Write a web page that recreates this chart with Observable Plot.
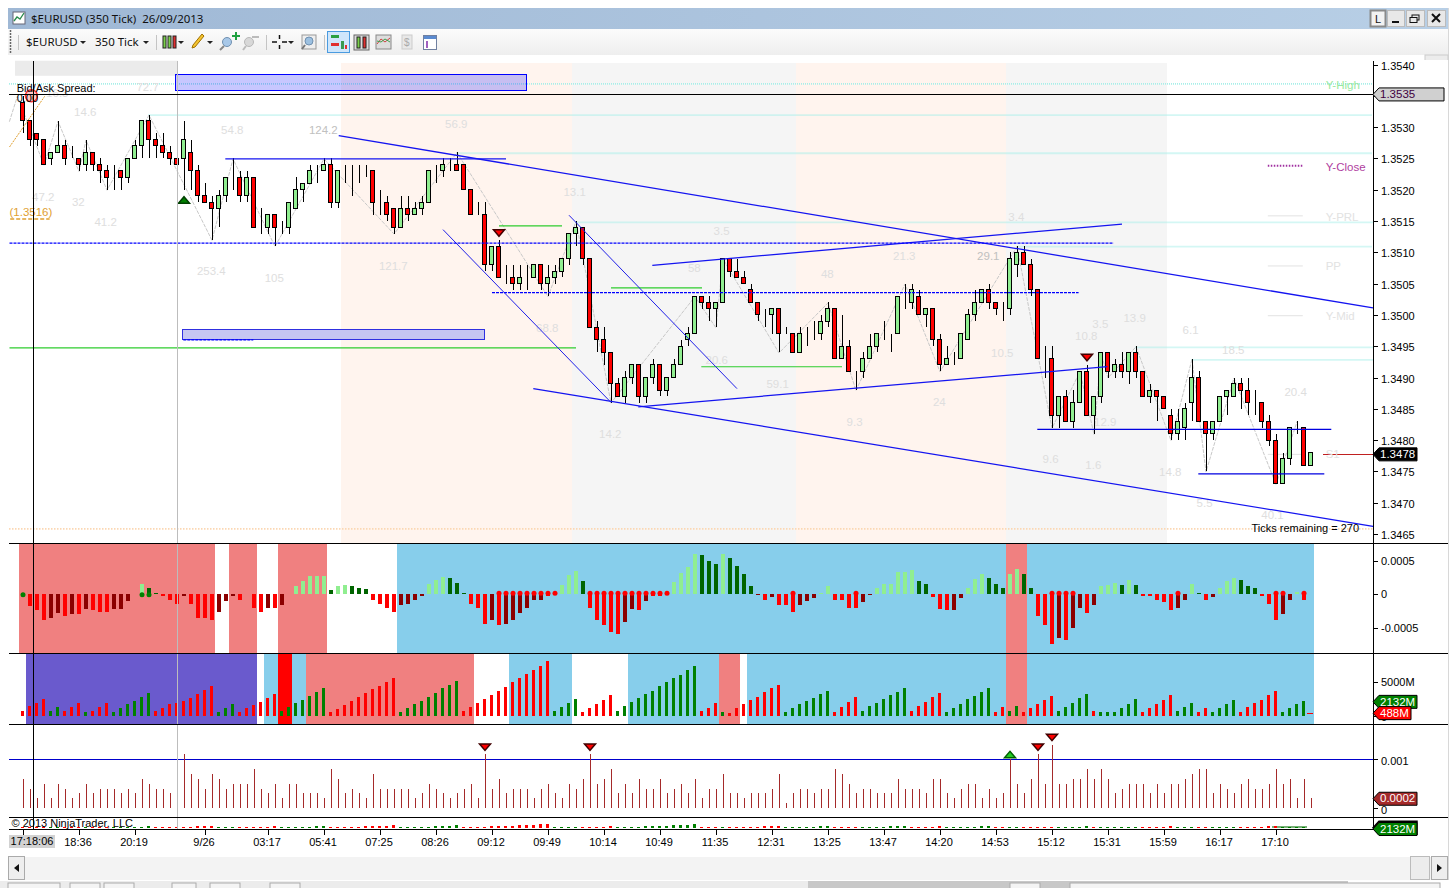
<!DOCTYPE html>
<html><head><meta charset="utf-8">
<script src="https://cdn.jsdelivr.net/npm/d3@7"></script>
<script src="https://cdn.jsdelivr.net/npm/@observablehq/plot@0.6"></script>
<style>
html,body{margin:0;padding:0;background:#fff;overflow:hidden}
#root{position:relative;width:1456px;height:888px;overflow:hidden;font-family:"Noto Sans",sans-serif;font-size:12px;color:#000}
#root>*{position:absolute}
.panel{left:0;shape-rendering:auto}
</style></head><body><div id="root"></div>
<script>
// ---------- candles, in pips above 1.3500 ----------
const opens=[34,31,29,28,25,26,27,25,25,24,26,24,23,23,23,22,25,27,31,28,27,26,25,25,26,23,19,18,17,19,22,22,19,22,14,14,16,14,14,17,20,21,23,23,24,18,23,23,23,23,23,18,18,17,14,17,16,17,18,23,23,24,24,24,20,16,
16,8,11,6,6,5,6,6,8,5,6,7,9,13,14,9,-2,-4,-6,-11,-13,-10,-8,-13,-10,-8,-12,-10,-8,-4,-3,3,2,1,2,9,7,6,4,2,0,0,1,-3,-3,-6,-3,-3,-3,-1,1,-7,-5,-9,-9,-7,-5,-3,-3,-3,2,2,3,0,1,-4,-8,-7,-7,-4,0,2,4,2,1,1,8,10,8,4,-7,-7,-16,-13,-17,-14,-9,-16,-13,-6,-9,-8,-9,-6,-9,-13,-12,-13,-16,-19,-18,-14,-10,-17,-19,-17,-13,-13,-11,-12,-14,-14,-17,-20,-27,-23,-18,-18,-24];
const closes=[31,28,28,24,26,27,25,25,24,26,24,23,22,23,22,25,27,31,28,27,26,25,24,28,23,19,18,17,19,22,22,19,22,14,14,16,14,14,18,20,21,23,23,24,18,23,23,23,23,23,18,18,16,14,17,16,17,18,23,23,24,24,23,20,16,16,
8,11,6,6,5,6,6,8,5,6,7,9,13,14,9,-2,-4,-6,-11,-13,-10,-8,-13,-10,-8,-12,-10,-8,-5,-3,3,2,1,2,9,7,6,5,2,0,0,1,-3,-3,-6,-3,-3,-3,-1,1,-7,-5,-9,-9,-7,-5,-3,-3,-3,3,2,4,0,1,-4,-8,-7,-7,-3,0,2,4,2,1,1,9,10,8,4,-7,-7,-16,-13,-17,-14,-9,-16,-13,-6,-9,-8,-9,-6,-9,-13,-12,-13,-15,-19,-17,-15,-10,-17,-19,-17,-13,-12,-11,-12,-14,-14,-17,-20,-27,-23,-18,-18,-24,-22];
const highs=[35,31,29,28,26,31,28,27,25,28,26,25,24,24,23,25,28,31,32,29,29,27,27,31,28,24,21,19,20,22,25,23,23,22,17,16,16,15,18,22,21,24,24,25,25,23,24,24,24,24,23,20,19,17,19,19,18,19,23,24,25,25,26,24,20,18,
18,11,12,8,8,8,8,8,8,8,8,9,13,15,14,9,-1,-2,-6,-10,-9,-8,-8,-10,-7,-8,-10,-7,-4,-2,3,3,3,2,9,9,9,7,5,2,1,1,1,-2,-3,-2,-2,-1,0,2,1,0,-4,-9,-6,-3,-3,-1,-3,3,5,5,4,1,1,-3,-5,-6,-3,1,4,4,5,2,2,10,11,11,9,4,-5,-5,-13,-12,-12,-9,-8,-13,-6,-6,-7,-6,-6,-5,-9,-11,-12,-13,-15,-15,-14,-7,-9,-17,-17,-13,-12,-10,-10,-10,-12,-14,-16,-19,-22,-18,-17,-18,-22];
const lows=[29,27,27,24,24,26,24,25,23,23,23,21,20,20,20,21,25,25,25,25,25,24,22,20,20,18,18,12,14,18,20,18,18,14,13,13,11,13,13,17,18,21,21,23,17,17,21,19,21,22,16,16,15,13,14,15,16,16,18,21,22,23,23,20,16,16,
7,7,6,5,4,4,4,6,4,3,5,6,8,11,8,-2,-6,-8,-14,-13,-14,-11,-14,-14,-11,-13,-13,-10,-8,-5,-3,1,-1,-2,2,6,6,5,2,-1,-2,-3,-6,-3,-6,-6,-5,-4,-4,-2,-7,-7,-9,-12,-10,-6,-6,-4,-6,-3,1,1,0,-2,-5,-9,-8,-8,-7,-4,-1,2,1,0,-1,0,6,8,3,-7,-10,-18,-18,-17,-18,-14,-16,-19,-14,-10,-10,-10,-11,-10,-13,-14,-17,-15,-20,-20,-20,-17,-17,-25,-20,-17,-16,-13,-15,-16,-16,-18,-21,-27,-27,-24,-19,-24,-24];
// ---------- momentum histogram, units of 0.00001 ----------
const momentum=[0,-18,-24,-39,-36,-28,-32,-30,-30,-22,-24,-26,-27,-22,-22,-10,0,15,10,2,-3,-9,-15,-3,-15,-36,-36,-38,-27,-10,-2,-9,0,-21,-27,-20,-20,-16,0,12,20,27,27,27,6,12,14,12,10,8,-9,-15,-21,-27,-16,-14,-8,-2,15,21,25,24,16,2,-15,-20,
-44,-39,-46,-44,-39,-28,-21,-8,-9,-2,-1,14,28,34,20,-21,-39,-46,-57,-60,-42,-22,-24,-10,-2,-2,5,18,32,40,60,58,50,45,60,54,42,30,12,-1,-8,-4,-16,-16,-26,-16,-10,-6,2,12,-9,-9,-21,-21,-12,-1,10,15,15,33,33,36,20,15,-4,-22,-24,-24,-6,
10,22,30,24,15,10,30,38,30,10,-33,-46,-74,-66,-68,-50,-21,-28,-16,12,14,16,14,21,14,-3,-3,-8,-12,-24,-20,-8,15,2,-9,-4,10,20,24,21,12,9,-3,-15,-39,-30,-8,4,-9,0];
const momentumShade=("g"+"rrrddrdrdrrrddd"+"r"+"lgg"+"rrrd"+"rrrr"+"ddd"+"rrrr"+"drd"+"llllll"+"gllggg"+"rrrr"+"dddd"+"lll"+"ggg"+"rr"+
"rdr"+"dddddd"+"rr"+"lll"+"g"+"rrrrr"+"dd"+"r"+"d"+"rr"+"lllll"+"ggg"+"l"+"gggg"+"d"+"r"+"d"+"rrr"+"ddd"+"ll"+"rrrr"+"dd"+"llllll"+"gg"+"rrr"+"dd"+
"lll"+"ggg"+"ll"+"gg"+"rrr"+"d"+"r"+"dd"+"r"+"d"+"lll"+"g"+"l"+"g"+"rrrrr"+"dd"+"l"+"g"+"r"+"d"+"lll"+"ggg"+"rrr"+"dd"+"l"+"rr").split("");
const redDots=[68,69,70,71,72,73,74,75,76,81,82,83,84,85,86,87,88,89,90,91,92,110,119,147,148,149,150,165,179,180,183];
const greenDots=[0,17,18];
// ---------- volume, millions ----------
const volume=[680,1455,1890,2470,730,1310,730,1310,1890,580,730,1310,1890,580,1160,1745,2180,2765,3350,730,1160,1745,1890,2180,2620,3200,3780,4365,580,1160,1745,580,1160,1600,2040,2620,3200,730,1310,1890,2330,2910,3490,4075,580,1020,1600,2180,2765,3350,3930,4365,4950,5530,580,1160,1745,2180,2765,3350,4075,4510,5090,730,1310,1890,
2470,3055,3640,4220,4950,5530,6110,6690,7275,8000,730,1310,1890,2470,580,1160,1745,2330,3055,730,1455,2040,2620,3200,3640,4365,4950,5530,5965,6690,7275,730,1160,1890,580,485,1160,1745,2330,2765,3490,4075,4510,580,1160,1745,2180,2620,3200,3640,580,1310,2040,2765,730,1455,1890,2470,3055,3490,4075,730,1455,2040,2765,3350,580,1160,1745,
2470,2910,3490,4075,580,1310,730,1455,580,1160,1745,2330,2910,730,1310,1890,2620,3200,730,580,580,580,1160,1745,2470,580,1160,1745,2330,3055,730,1310,1890,580,1160,580,1160,1745,2330,580,1310,1890,2330,3055,3640,580,1160,1745,2180,0];
const volumeRuns=[["r",4],["g",2],["r",3],["g",1],["r",3],["g",6],["r",9],["g",3],["r",6],["g",7],["r",10],["g",9],["r",13],["g",4],["r",5],["g",12],["r",3],["g",1],["r",8],["g",7],["r",4],["g",7],["r",5],["g",7],["r",2],["g",2],["r",5],["g",5],["r",1],["g",6],["r",5],["g",3],["r",2],["g",4],["r",6],["g",5]];
// ---------- bar range, pips ----------
const barRange=[6,4,2,5,2,5,4,2,3,5,3,4,4,4,3,4,3,6,5,4,4,3,3,11,7,6,4,7,6,4,5,5,5,8,4,3,5,2,5,5,3,3,3,2,8,6,3,4,3,2,7,4,4,4,4,4,2,3,5,4,3,2,3,4,5,2,
11,4,6,3,4,4,4,2,4,5,3,2,5,4,6,11,5,6,8,3,5,3,6,4,4,6,3,4,5,3,6,2,4,4,7,3,3,2,3,3,3,4,7,1,3,4,4,3,4,4,8,7,5,3,4,4,3,3,3,6,4,4,4,3,6,6,3,2,
4,5,5,2,4,2,3,10,5,3,6,11,5,13,5,5,6,6,8,6,8,6,3,4,5,5,5,3,5,3,5,5,6,7,8,8,3,5,4,3,5,6,4,4,5,8,5,6,2,6,2];
// ---------- background states [from bar, to bar, colour] ----------
const bandsMomentum=[[-.5,27.5,"#f08080"],[29.5,33.5,"#f08080"],[36.5,43.5,"#f08080"],[53.5,140.5,"#87ceeb"],[140.5,143.5,"#f08080"],[143.5,184.5,"#87ceeb"]];
const bandsVolume=[[.5,33.5,"#6a5acd"],[34.5,36.5,"#87ceeb"],[36.5,38.5,"#ff0000"],[38.5,40.5,"#87ceeb"],[40.5,64.5,"#f08080"],[69.5,78.5,"#87ceeb"],[86.5,99.5,"#87ceeb"],[99.5,102.5,"#f08080"],[103.5,140.5,"#87ceeb"],[140.5,143.5,"#f08080"],[143.5,184.5,"#87ceeb"]];
const sessions=[[45.5,78.5,"#fff4ee"],[78.5,110.5,"#f5f5f5"],[110.5,140.5,"#fff4ee"],[140.5,163.5,"#f5f5f5"]];
// ---------- drawn objects, [bar, pips, bar, pips] ----------
const channelLines=[[45.1,28.7,192.86,1.2],[72.9,-11.7,192.86,-33.7],[89.9,8,157,14.6],[87.9,-14.6,154.9,-8.2],[28.9,25,69,25]];
const thinDiagonals=[[60,13.7,84,-13.9],[78,16,102,-11.7]];
const dashedBlue=[[-1.93,11.55,155.8,11.55],[67,3.65,150.8,3.65],[22.9,-3.9,32.9,-3.9]];
const supportLines=[[144.9,-18.2,186.9,-18.2],[167.9,-25.3,185.9,-25.3]];
const greenLines=[[68,14.3,77,14.3],[84,4.4,97,4.4],[-1.93,-5.2,79,-5.2],[96.9,-8.2,117,-8.2]];
const cyanLevels=[[-1.93,37],[18,32],[62,25.9],[79,14.85],[142,11],[159,-5.1],[167,-7.1]];
const zigBars=[-1.93,-.8,3,5,8,9,12,18,27,30,36,43,53,62,75,79,84,96,99,100,108,115,119,126,131,142,147,151,153,154,155,159,164,167,169,173,179,182];
const zigPips=[31,35,24,31,23,28,20,32,12,25,11,25,13,26,3,15,-14,3,-2,9,-6,2,-12,5,-9,11,-18,-9,-19,-6,-10,-5,-20,-7,-25,-10,-27,-17];
const swingText=["72.7","16.3","14.6","54.8","124.2","56.9","13.1","47.2","32","41.2","253.4","105","121.7","3.5","58","48","21.3","29.1","3.4","68.8","20.6","59.1","24","9.3","14.2","10.5","10.8","3.5","13.9","6.1","18.5","20.4","12.9","9.6","1.6","14.8","5.5","40.1"];
const swingBars=[17.8,4.9,8.9,29.9,42.9,61.9,78.8,2.9,7.9,11.8,26.9,35.9,52.9,99.8,95.9,114.9,125.9,137.9,141.9,74.9,99.1,107.8,130.9,118.8,83.9,139.9,151.9,153.9,158.8,166.8,172.9,181.8,154.6,146.8,152.9,163.9,168.8,178.5];
const swingPips=[36.5,35.4,32.5,29.6,29.6,30.6,19.6,18.9,18,14.9,7,6,7.9,13.5,7.6,6.5,9.5,9.5,15.6,-2,-7.1,-11,-13.9,-17,-19,-6,-3.4,-1.5,-.4,-2.4,-5.5,-12.3,-17,-23,-24,-25,-30,-32];
const darkerSwings=["124.2","29.1"];
const levelNames=["Y-High","Y-Close","Y-PRL","PP","Y-Mid","S1"];
const levelPips=[36.8,23.7,15.7,7.8,-.2,-22.2];
const levelColors=["#98e8a0","#b040a0","#e2e2e2","#e2e2e2","#e2e2e2","#e2e2e2"];
const priceTicks=[1.3465,1.3470,1.3475,1.3480,1.3485,1.3490,1.3495,1.3500,1.3505,1.3510,1.3515,1.3520,1.3525,1.3530,1.3535,1.3540];
const timeTickBars=[0,8,16,26,35,43,51,59,67,75,83,91,99,107,115,123,131,139,147,155,163,171,179];
const timeTickText=["","18:36","20:19","9/26","03:17","05:41","07:25","08:26","09:12","09:49","10:14","10:49","11:35","12:31","13:25","13:47","14:20","14:53","15:12","15:31","15:59","16:17","17:10"];

// ---------- derived tables ----------
const price=p=>1.35+p/1e4;
const candles=opens.map((o,i)=>({i,open:price(o),close:price(closes[i]),high:price(highs[i]),low:price(lows[i]),up:closes[i]>=o}));
const shadeColor={r:"#ff0000",d:"#8b0000",l:"#90ee90",g:"#006400"};
const momentumRows=momentum.map((v,i)=>({i,v:v*1e-5,s:momentumShade[i]||"r"}));
const volumeSides=volumeRuns.flatMap(([s,n])=>Array(n).fill(s));
const volumeRows=volume.map((v,i)=>({i,v,s:volumeSides[i]||"g"}));
const rangeRows=barRange.map((v,i)=>({i,v:v*1e-4}));
const lineRows=a=>a.map(([a1,p1,a2,p2])=>({a1,a2,p1:price(p1),p2:price(p2)}));
const segs=(a,o)=>Plot.link(lineRows(a),{x1:"a1",x2:"a2",y1:"p1",y2:"p2",...o});

const FONT="'Liberation Sans',Arial,sans-serif";
const UIFONT="'Noto Sans',sans-serif";
const AX=1350/7, LEFT=-13.5/7, CROSS=10/7, GREY=22;
const tag=w=>({draw(c){c.moveTo(0,0);c.lineTo(6,-6.5);c.lineTo(w,-6.5);c.lineTo(w,6.5);c.lineTo(6,6.5);c.closePath();}});
const flatDown={draw(c){c.moveTo(-5.5,-3);c.lineTo(5.5,-3);c.lineTo(0,3.5);c.closePath();}};
const flatUp={draw(c){c.moveTo(-5.5,3);c.lineTo(5.5,3);c.lineTo(0,-3.5);c.closePath();}};

function panel(top,height,y,marks,opts={}){
  const svg=Plot.plot({width:1456,height,marginTop:0,marginLeft:0,marginRight:1456-1372.5,marginBottom:opts.marginBottom??0,
    style:{fontFamily:FONT,fontSize:"11px",background:"transparent",overflow:"visible",color:"#000"},
    x:{domain:[0,184],range:[22.5,1310.5],axis:null,label:null},
    y:{...y,axis:null,label:null},
    marks});
  svg.classList.add("panel");
  svg.style.position="absolute";svg.style.top=top+"px";svg.style.left="0";svg.style.maxWidth="none";
  document.getElementById("root").appendChild(svg);
  return svg;
}
const bandMarks=b=>b.map(([a,z,c])=>Plot.rect([0],{x1:()=>a,x2:()=>z,fill:c,shapeRendering:"crispEdges"}));
const vRules=[
  Plot.ruleX([GREY],{stroke:"#bdbdbd",shapeRendering:"crispEdges"}),
  Plot.ruleX([CROSS],{stroke:"#000",shapeRendering:"crispEdges"}),
  Plot.ruleX([AX],{stroke:"#000",shapeRendering:"crispEdges"})];
const yAxis=(ticks,fmt,dy=0)=>[
  Plot.ruleY(ticks,{x1:()=>AX,x2:()=>AX+5/7,stroke:"#000",shapeRendering:"crispEdges"}),
  Plot.axisY({anchor:"right",ticks,tickFormat:fmt,tickSize:0,tickPadding:8,fontSize:11,label:null,dy})];
const tagMark=(y,w,fill,text,color)=>[
  Plot.dot([0],{x:()=>AX,y:()=>y,symbol:tag(w),fill,stroke:"#000",strokeWidth:1}),
  Plot.text([text],{x:()=>AX,y:()=>y,dx:7,text:d=>d,textAnchor:"start",fill:color,fontSize:11.5})];

// ---------- price panel ----------
const top1=price(40.6),bottomP=price(-36.4);
panel(55,488,{domain:[1.3465,1.3540],range:[479,9.5]},[
  ...sessions.map(([a,z,c])=>Plot.rect([0],{x1:()=>a,x2:()=>z,y1:()=>price(40.2),y2:()=>bottomP,fill:c,shapeRendering:"crispEdges"})),
  Plot.rect([0],{x1:()=>-1.07,x2:()=>22.2,y1:()=>top1,y2:()=>price(38.2),fill:"#ebebeb"}),
  ...cyanLevels.map(([a,p])=>Plot.ruleY([price(p)],{x1:()=>a,x2:()=>AX,stroke:"#a8efe9",strokeWidth:1.8,strokeDasharray:"1,1"})),
  Plot.ruleY([price(-34.1)],{x1:()=>LEFT,x2:()=>AX,stroke:"#fbd8b4",strokeWidth:1.8,strokeDasharray:"1.5,1.5"}),
  Plot.rect([0],{x1:()=>21.9,x2:()=>72,y1:()=>price(38.4),y2:()=>price(35.9),fill:"#0000ff",fillOpacity:.22,stroke:"#0000ff",shapeRendering:"crispEdges"}),
  Plot.rect([0],{x1:()=>22.9,x2:()=>66,y1:()=>price(-2.3),y2:()=>price(-4),fill:"#c6c6f2",stroke:"#3030e0",shapeRendering:"crispEdges"}),
  // swing labels and zigzag
  Plot.text(swingText,{x:(d,i)=>swingBars[i],y:(d,i)=>price(swingPips[i]),text:d=>d,fill:"#dedede",fontSize:11.5,filter:d=>!darkerSwings.includes(d)}),
  Plot.text(swingText,{x:(d,i)=>swingBars[i],y:(d,i)=>price(swingPips[i]),text:d=>d,fill:"#c0c0c0",fontSize:11.5,filter:d=>darkerSwings.includes(d)}),
  Plot.line(zigBars.map((a,i)=>[a,price(zigPips[i])]),{x:d=>d[0],y:d=>d[1],stroke:"#c8c8c8",strokeDasharray:"3,2",strokeWidth:1}),
  // legend strokes at right
  Plot.ruleY([price(23.9)],{x1:()=>177.9,x2:()=>182.9,stroke:"#a030a0",strokeWidth:2,strokeDasharray:"1.5,1.5"}),
  ...[15.9,7.9,-.05,-22.2].map(p=>Plot.ruleY([price(p)],{x1:()=>177.9,x2:()=>182.9,stroke:"#e2e2e2"})),
  Plot.ruleY([price(-22.2)],{x1:()=>185.8,x2:()=>AX,stroke:"#c02020",shapeRendering:"crispEdges"}),
  Plot.text(levelNames,{x:()=>186.1,y:(d,i)=>price(levelPips[i]),text:d=>d,textAnchor:"start",fill:"#e2e2e2",fontSize:11.5,filter:(d,i)=>i>1}),
  Plot.text([levelNames[0]],{x:()=>186.1,y:()=>price(levelPips[0]),text:d=>d,textAnchor:"start",fill:levelColors[0],fontSize:11.5}),
  Plot.text([levelNames[1]],{x:()=>186.1,y:()=>price(levelPips[1]),text:d=>d,textAnchor:"start",fill:levelColors[1],fontSize:11.5}),
  // green support strokes
  segs(greenLines,{stroke:"#2ecc2e",strokeWidth:1.2}),
  // candles
  Plot.ruleX(candles,{x:"i",y1:"low",y2:"high",stroke:"#000",shapeRendering:"crispEdges"}),
  Plot.rect(candles.filter(d=>d.up),{x1:d=>d.i-2/7,x2:d=>d.i+2/7,y1:"open",y2:"close",fill:"#90ee90",stroke:"#000",shapeRendering:"crispEdges"}),
  Plot.rect(candles.filter(d=>!d.up),{x1:d=>d.i-2/7,x2:d=>d.i+2/7,y1:"open",y2:"close",fill:"#ff0000",stroke:"#000",shapeRendering:"crispEdges"}),
  // drawings
  segs(channelLines,{stroke:"#1414f0",strokeWidth:1.25}),
  segs(thinDiagonals,{stroke:"#2020e8",strokeWidth:1}),
  segs(dashedBlue,{stroke:"#0000ff",strokeWidth:1.3,strokeDasharray:"3,1"}),
  segs(supportLines,{stroke:"#0000e0",strokeWidth:1.2}),
  Plot.link([0],{x1:()=>LEFT,x2:()=>3.1,y1:()=>price(26.9),y2:()=>price(35),stroke:"#e0a030",strokeDasharray:"2,1"}),
  Plot.dot([0],{x:()=>1.2,y:()=>price(35.1),r:6,stroke:"#ff3030",strokeWidth:1.5,fill:"#ff9090",fillOpacity:.5}),
  // markers
  Plot.dot([0],{x:()=>68,y:()=>price(13.2),symbol:flatDown,fill:"#ff0000",stroke:"#400000"}),
  Plot.dot([0],{x:()=>152,y:()=>price(-6.7),symbol:flatDown,fill:"#ff0000",stroke:"#400000"}),
  Plot.dot([0],{x:()=>23,y:()=>price(18.4),symbol:flatUp,fill:"#008000",stroke:"#004000"}),
  // texts
  Plot.text(["(1.3516)"],{x:()=>LEFT,y:()=>price(16.5),text:d=>d,textAnchor:"start",fill:"#e0a030",fontSize:11.5}),
  Plot.link([0],{x1:()=>LEFT+.1,x2:()=>3.8,y1:()=>price(15.4),y2:()=>price(15.4),stroke:"#e0a030",strokeWidth:1.5,strokeDasharray:"4,2"}),
  Plot.text(["Bid/Ask Spread:"],{x:()=>-.9,y:()=>price(36.3),text:d=>d,textAnchor:"start",fill:"#000",fontSize:11}),
  Plot.text(["0.00"],{x:()=>-.9,y:()=>price(34.6),text:d=>d,textAnchor:"start",fill:"#000",fontSize:11}),
  Plot.text(["Ticks remaining = 270"],{x:()=>175.5,y:()=>price(-34),text:d=>d,textAnchor:"start",fill:"#000",fontSize:11}),
  // crosshair & axis
  Plot.ruleX([GREY],{y1:()=>top1,y2:()=>bottomP,stroke:"#bdbdbd",shapeRendering:"crispEdges"}),
  Plot.ruleX([CROSS],{y1:()=>top1,y2:()=>bottomP,stroke:"#000",shapeRendering:"crispEdges"}),
  Plot.ruleX([AX],{y1:()=>top1,y2:()=>bottomP,stroke:"#000",shapeRendering:"crispEdges"}),
  Plot.ruleY([price(35.3)],{x1:()=>LEFT,x2:()=>AX,stroke:"#000",shapeRendering:"crispEdges"}),
  ...yAxis(priceTicks,d3.format(".4f"),1),
  ...tagMark(price(35.3),71,"#d0d0d0","1.3535","#400040"),
  ...tagMark(price(-22.2),44,"#000000","1.3478","#ffffff")
]);

// ---------- momentum panel ----------
const fmtMom=v=>v===0?"0":v.toFixed(4);
panel(544,109,{domain:[-.0005,.0005],range:[83.7,16.7]},[
  ...bandMarks(bandsMomentum),
  ...Object.entries(shadeColor).map(([k,c])=>Plot.rect(momentumRows.filter(d=>d.s===k&&d.v!==0),{x1:d=>d.i-2/7,x2:d=>d.i+2/7,y1:()=>0,y2:"v",fill:c,shapeRendering:"crispEdges"})),
  Plot.dot(redDots,{x:d=>d,y:()=>.00002,r:2.5,fill:"#ff0000"}),
  Plot.dot(greenDots,{x:d=>d,y:()=>0,r:2.5,fill:"#008000"}),
  ...vRules,
  ...yAxis([-.0005,0,.0005],fmtMom)
]);

// ---------- volume panel ----------
panel(654,70,{domain:[0,5000],range:[62,27.7]},[
  ...bandMarks(bandsVolume),
  Plot.rect(volumeRows.filter(d=>d.s==="r"&&d.v),{x1:d=>d.i-1.5/7,x2:d=>d.i+1.5/7,y1:()=>0,y2:"v",fill:"#ff0000",shapeRendering:"crispEdges"}),
  Plot.rect(volumeRows.filter(d=>d.s==="g"&&d.v),{x1:d=>d.i-1.5/7,x2:d=>d.i+1.5/7,y1:()=>0,y2:"v",fill:"#008000",shapeRendering:"crispEdges"}),
  Plot.ruleY([488],{x1:()=>183.5,x2:()=>184.4,stroke:"#ff0000",shapeRendering:"crispEdges"}),
  ...vRules,
  ...yAxis([0,5000],v=>v?v+"M":"0",.5),
  ...tagMark(2132,44,"#008000","2132M","#ffffff"),
  ...tagMark(488,38,"#ff0000","488M","#ffffff")
]);

// ---------- range panel ----------
panel(725,92,{domain:[0,.001],range:[83,34.3]},[
  Plot.ruleY([.001],{x1:()=>LEFT,x2:()=>AX,stroke:"#0000cd",shapeRendering:"crispEdges"}),
  Plot.ruleX(rangeRows,{x:"i",y1:()=>0,y2:"v",stroke:"#a52a2a",shapeRendering:"crispEdges"}),
  Plot.dot([66,81,145,147],{x:d=>d,y:d=>rangeRows[d].v,dy:-8,symbol:flatDown,fill:"#ff0000",stroke:"#400000"}),
  Plot.dot([141],{x:d=>d,y:d=>rangeRows[d].v,dy:-5,symbol:flatUp,fill:"#22cc22",stroke:"#006000"}),
  ...vRules,
  ...yAxis([0,.001],v=>v?"0.001":"0",1.5),
  ...tagMark(.0002,44,"#a52a2a","0.0002","#ffffff")
]);

// ---------- mini volume + time axis ----------
panel(818,38,{domain:[0,8000],range:[10,6]},[
  Plot.rect([0],{x1:()=>178.5,x2:()=>183.5,y1:()=>0,y2:()=>4000,fill:"#78b078",shapeRendering:"crispEdges"}),
  Plot.rect(volumeRows.filter(d=>d.s==="r"&&d.v),{x1:d=>d.i-1.5/7,x2:d=>d.i+1.5/7,y1:()=>0,y2:d=>Math.max(d.v,2000),fill:"#ff0000",shapeRendering:"crispEdges"}),
  Plot.rect(volumeRows.filter(d=>d.s==="g"&&d.v),{x1:d=>d.i-1.5/7,x2:d=>d.i+1.5/7,y1:()=>0,y2:d=>Math.max(d.v,2000),fill:"#008000",shapeRendering:"crispEdges"}),
  Plot.ruleX([GREY],{y1:()=>24000,y2:()=>-2000,stroke:"#bdbdbd",shapeRendering:"crispEdges"}),
  Plot.ruleX([CROSS],{y1:()=>24000,y2:()=>-2000,stroke:"#000",shapeRendering:"crispEdges"}),
  Plot.ruleX([AX],{y1:()=>24000,y2:()=>-2000,stroke:"#000",shapeRendering:"crispEdges"}),
  Plot.ruleX(timeTickBars,{y1:()=>-2000,y2:()=>-14000,stroke:"#000",shapeRendering:"crispEdges"}),
  Plot.text(["© 2013 NinjaTrader, LLC"],{x:()=>-1.64,y:()=>10000,text:d=>d,textAnchor:"start",fill:"#000",fontSize:11}),
  Plot.axisX({ticks:timeTickBars,tickFormat:d=>timeTickText[timeTickBars.indexOf(d)],tickSize:0,tickPadding:9,dx:-1,fontSize:11,label:null}),
  Plot.dot([0],{x:()=>AX,y:()=>1500,symbol:tag(44),fill:"#c00000",stroke:"#000"}),
  ...tagMark(-1000,44,"#008000","2132M","#ffffff")
],{marginBottom:27});

// ---------- window chrome ----------
const root=document.getElementById("root");
const add=(html)=>{const t=document.createElement("div");t.innerHTML=html;const e=t.firstElementChild;root.appendChild(e);return e;};
const box=(l,t,w,h,css,txt="")=>add(`<div style="position:absolute;left:${l}px;top:${t}px;width:${w}px;height:${h}px;${css}">${txt}</div>`);
// separators
[[543,1448],[653,1448],[724,1448],[817,1448],[829,1373]].forEach(([y,r])=>box(9,y,r-9,1,"background:#000"));
box(9,835,46,13,`background:#d2d2d2;font:11px/13px ${FONT};text-align:center`,"17:18:06");
// title bar
box(8,8,1440,21,"background:linear-gradient(90deg,#9fb8d5,#b8cfe6)");
box(31,10,300,18,`font:11.5px/18px ${UIFONT};color:#111;white-space:pre`,"$EURUSD (350 Tick)  26/09/2013");
box(8,29,1440,26,"background:linear-gradient(#fbfbfb,#eeeeee)");
box(1448,8,1,872,"background:#d8d8d8");
box(26,33,60,18,`font:11.5px/18px ${UIFONT};color:#111`,"$EURUSD");
box(95,33,60,18,`font:11.5px/18px ${UIFONT};color:#111`,"350 Tick");
add(`<svg width="1456" height="60" style="position:absolute;left:0;top:0">
<rect x="13" y="12" width="12" height="12" fill="#fff" stroke="#667"/><polyline points="14,21 17,17 20,19 24,13" fill="none" stroke="#2a8a4a" stroke-width="1.3"/>
<line x1="10.5" y1="30" x2="10.5" y2="54" stroke="#666" stroke-dasharray="2,1" stroke-width="1.5"/>
<g stroke="#c4c4c4"><line x1="18.5" y1="35" x2="18.5" y2="50"/><line x1="156.5" y1="35" x2="156.5" y2="50"/><line x1="266.5" y1="35" x2="266.5" y2="50"/><line x1="324.5" y1="35" x2="324.5" y2="50"/></g>
<g fill="#222"><path d="M80,41h6l-3,3z"/><path d="M143,41h6l-3,3z"/><path d="M178,41h6l-3,3z"/><path d="M207,41h6l-3,3z"/><path d="M288,41h6l-3,3z"/></g>
<g stroke="#222"><rect x="163" y="36" width="3" height="12" fill="#7ad04a"/><rect x="168" y="36" width="3" height="12" fill="#7ad04a"/><rect x="173" y="36" width="3" height="12" fill="#e03030"/></g>
<path d="M192,48l3,-1l9,-11l-2,-2l-9,11z" fill="#f4c430" stroke="#a07000"/>
<circle cx="227" cy="42" r="4.5" fill="#a8c8e8" stroke="#7090b0"/><line x1="224" y1="46" x2="220" y2="50" stroke="#888" stroke-width="2"/><path d="M232,35h3v-3h2v3h3v2h-3v3h-2v-3h-3z" fill="#20a040"/>
<circle cx="249" cy="42" r="4.5" fill="#d8d8d8" stroke="#b8b8b8"/><line x1="246" y1="46" x2="243" y2="50" stroke="#bbb" stroke-width="2"/><rect x="252" y="36" width="7" height="2" fill="#bbb"/>
<g stroke="#111" stroke-width="1.5"><line x1="272" y1="42" x2="277" y2="42"/><line x1="282" y1="42" x2="287" y2="42"/><line x1="279.5" y1="35" x2="279.5" y2="39"/><line x1="279.5" y1="45" x2="279.5" y2="49"/></g>
<rect x="302" y="35" width="14" height="14" fill="#eee" stroke="#999"/><circle cx="309" cy="41" r="4" fill="#9cc0e0" stroke="#7090b0"/><line x1="305" y1="45" x2="302" y2="49" stroke="#777" stroke-width="2"/>
<rect x="327.500" y="31.500" width="22" height="21" fill="#cfe6fb" stroke="#4a9be0"/><rect x="331" y="35" width="8" height="3" fill="#2aa040"/><rect x="331" y="43" width="8" height="3" fill="#e03030"/><rect x="341" y="41" width="3" height="8" fill="#3a9a50"/><rect x="345" y="45" width="2" height="4" fill="#e03030"/>
<rect x="354" y="35" width="15" height="15" fill="#ddd" stroke="#666"/><rect x="357" y="37" width="3" height="11" fill="#7ad04a" stroke="#222"/><rect x="363" y="37" width="3" height="11" fill="#e03030" stroke="#222"/>
<rect x="376" y="35" width="15" height="14" fill="#ddd" stroke="#888"/><polyline points="377,44 381,39 385,42 390,38" fill="none" stroke="#d04040"/><polyline points="377,41 381,42 385,39 390,42" fill="none" stroke="#40a050"/>
<rect x="402" y="35" width="10" height="14" fill="#e8e8e8" stroke="#ccc"/><text x="404" y="46" font-size="10" fill="#aaa" font-family="Liberation Sans">$</text>
<rect x="423.500" y="35.500" width="13" height="14" fill="#fff" stroke="#7080a0"/><rect x="424" y="36" width="12" height="3" fill="#5a8ad0"/><rect x="426" y="41" width="2" height="7" fill="#a060c0"/>
<g><rect x="1370.500" y="10.500" width="15" height="16" fill="#f2f2f2" stroke="#8a8a8a" stroke-width="2"/><text x="1375" y="23" font-size="11" fill="#111" font-family="Liberation Sans">L</text>
<rect x="1387.500" y="10.500" width="17" height="16" fill="#e8e8e8" stroke="#bbb"/><rect x="1392" y="21" width="7" height="2" fill="#111"/>
<rect x="1406.500" y="10.500" width="18" height="16" fill="#e8e8e8" stroke="#bbb"/><rect x="1412" y="15" width="7" height="5" fill="none" stroke="#111"/><rect x="1410" y="17.500" width="7" height="5" fill="#e8e8e8" stroke="#111"/>
<rect x="1427.500" y="10.500" width="18" height="16" fill="#e8e8e8" stroke="#bbb"/><path d="M1432,14l8,8M1440,14l-8,8" stroke="#111" stroke-width="2"/>
<rect x="1425" y="55" width="23" height="23" fill="#ececec" stroke="#ccc"/><path d="M1431,64h10l-5,5z" fill="#111"/></g>
</svg>`);
// scrollbar and bottom bar
box(8,857,1440,23,"background:#f3f3f3");
add(`<svg width="1456" height="40" style="position:absolute;left:0;top:848px">
<rect x="8.500" y="8.500" width="16" height="23" fill="#eee" stroke="#aaa"/><path d="M19,16v8l-5,-4z" fill="#111"/>
<rect x="1410.500" y="8.500" width="19" height="23" fill="#ececec" stroke="#bbb"/>
<rect x="1431.500" y="8.500" width="16" height="23" fill="#eee" stroke="#aaa"/><path d="M1437,16v8l5,-4z" fill="#111"/>
<rect x="0" y="33" width="808" height="7" fill="#ececec"/><rect x="808" y="33" width="540" height="7" fill="#c8c8c8"/>
<g fill="#f4f4f4" stroke="#aaa"><rect x="8" y="35" width="52" height="6"/><rect x="70" y="35" width="30" height="6"/><rect x="104" y="35" width="30" height="6"/><rect x="172" y="35" width="24" height="6"/><rect x="210" y="35" width="30" height="6"/><rect x="270" y="35" width="30" height="6"/><rect x="1010" y="35" width="30" height="6"/><rect x="1070" y="35" width="370" height="6"/></g>
</svg>`);
</script></body></html>
